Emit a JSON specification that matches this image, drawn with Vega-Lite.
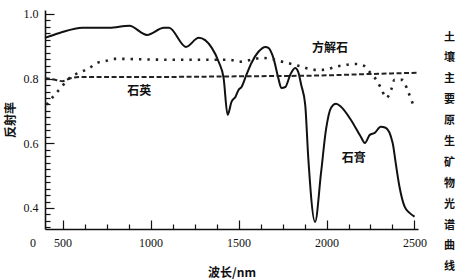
{
  "$schema": "https://vega.github.io/schema/vega-lite/v6.json",
  "width": 373,
  "height": 219,
  "autosize": "none",
  "padding": {"left": 45, "top": 10, "right": 51, "bottom": 50},
  "background": "white",
  "config": {
    "view": {"stroke": null},
    "axis": {"labelFont": "Liberation Serif", "labelFontSize": 12, "labelColor": "#111", "labelOverlap": false, "domainColor": "#111", "domainWidth": 1.6, "tickColor": "#111", "tickWidth": 1.2, "grid": false, "titleFont": "Noto Sans CJK SC", "titleFontSize": 12, "titleFontWeight": "bold", "titleColor": "#111"},
    "title": {"font": "Noto Sans CJK SC"}
  },
  "title": {
    "text": ["土","壤","主","要","原","生","矿","物","光","谱","曲","线"],
    "orient": "right",
    "angle": 0,
    "anchor": "middle",
    "fontSize": 11,
    "fontWeight": "bold",
    "lineHeight": 20.9,
    "offset": 12,
    "dy": -88,
    "color": "#111"
  },
  "datasets": {
    "gypsum": [
      {"nm": 400, "r": 0.926}, {"nm": 483, "r": 0.941}, {"nm": 613, "r": 0.957}, {"nm": 766, "r": 0.957},
      {"nm": 879, "r": 0.963}, {"nm": 980, "r": 0.935}, {"nm": 1076, "r": 0.957}, {"nm": 1105, "r": 0.957},
      {"nm": 1201, "r": 0.898}, {"nm": 1274, "r": 0.926}, {"nm": 1348, "r": 0.895}, {"nm": 1387, "r": 0.852},
      {"nm": 1415, "r": 0.802}, {"nm": 1438, "r": 0.688}, {"nm": 1460, "r": 0.728}, {"nm": 1483, "r": 0.744},
      {"nm": 1500, "r": 0.765}, {"nm": 1517, "r": 0.774}, {"nm": 1545, "r": 0.812}, {"nm": 1574, "r": 0.849},
      {"nm": 1613, "r": 0.883}, {"nm": 1653, "r": 0.898}, {"nm": 1670, "r": 0.895}, {"nm": 1698, "r": 0.864},
      {"nm": 1726, "r": 0.802}, {"nm": 1743, "r": 0.771}, {"nm": 1766, "r": 0.774}, {"nm": 1794, "r": 0.812},
      {"nm": 1822, "r": 0.833}, {"nm": 1839, "r": 0.821}, {"nm": 1856, "r": 0.781}, {"nm": 1879, "r": 0.719},
      {"nm": 1896, "r": 0.558}, {"nm": 1935, "r": 0.357}, {"nm": 1969, "r": 0.509}, {"nm": 1997, "r": 0.642},
      {"nm": 2026, "r": 0.710}, {"nm": 2054, "r": 0.722}, {"nm": 2082, "r": 0.713}, {"nm": 2139, "r": 0.672},
      {"nm": 2195, "r": 0.620}, {"nm": 2218, "r": 0.601}, {"nm": 2246, "r": 0.626}, {"nm": 2274, "r": 0.632},
      {"nm": 2308, "r": 0.651}, {"nm": 2336, "r": 0.648}, {"nm": 2376, "r": 0.601}, {"nm": 2393, "r": 0.540},
      {"nm": 2415, "r": 0.465}, {"nm": 2444, "r": 0.404}, {"nm": 2472, "r": 0.385}, {"nm": 2500, "r": 0.373}
    ],
    "calcite": [
      {"nm": 409, "r": 0.719}, {"nm": 455, "r": 0.750}, {"nm": 494, "r": 0.774}, {"nm": 528, "r": 0.796},
      {"nm": 568, "r": 0.812}, {"nm": 608, "r": 0.821}, {"nm": 653, "r": 0.833}, {"nm": 698, "r": 0.849},
      {"nm": 749, "r": 0.855}, {"nm": 795, "r": 0.861}, {"nm": 1125, "r": 0.858}, {"nm": 1449, "r": 0.858},
      {"nm": 1505, "r": 0.852}, {"nm": 1636, "r": 0.864}, {"nm": 1750, "r": 0.852}, {"nm": 1846, "r": 0.839},
      {"nm": 1931, "r": 0.827}, {"nm": 1977, "r": 0.827}, {"nm": 2073, "r": 0.839}, {"nm": 2170, "r": 0.845},
      {"nm": 2215, "r": 0.839}, {"nm": 2244, "r": 0.821}, {"nm": 2283, "r": 0.796}, {"nm": 2312, "r": 0.768},
      {"nm": 2340, "r": 0.740}, {"nm": 2369, "r": 0.768}, {"nm": 2386, "r": 0.796}, {"nm": 2431, "r": 0.796},
      {"nm": 2460, "r": 0.765}, {"nm": 2482, "r": 0.734}, {"nm": 2500, "r": 0.710}
    ],
    "quartz": [
      {"nm": 400, "r": 0.802}, {"nm": 450, "r": 0.797}, {"nm": 500, "r": 0.792}, {"nm": 540, "r": 0.800},
      {"nm": 600, "r": 0.805}, {"nm": 1000, "r": 0.805}, {"nm": 1500, "r": 0.807}, {"nm": 2000, "r": 0.810},
      {"nm": 2300, "r": 0.815}, {"nm": 2520, "r": 0.818}
    ],
    "labels": [
      {"nm": 2020, "r": 0.895, "t": "方解石"},
      {"nm": 935, "r": 0.762, "t": "石英"},
      {"nm": 2155, "r": 0.555, "t": "石膏"}
    ],
    "origin": [{"nm": 400, "r": 0.335, "t": "0"}]
  },
  "encoding": {
    "x": {"field": "nm", "type": "quantitative", "scale": {"domain": [400, 2520], "nice": false, "zero": false},
      "axis": {"title": "波长/nm", "titlePadding": 15, "values": [500,625,750,875,1000,1125,1250,1375,1500,1625,1750,1875,2000,2125,2250,2375,2500],
        "labelExpr": "datum.value % 500 == 0 ? format(datum.value, 'd') : ''",
        "tickSize": {"condition": {"test": "datum.value % 500 == 0", "value": -9}, "value": -5},
        "labelPadding": 17}},
    "y": {"field": "r", "type": "quantitative", "scale": {"domain": [0.335, 1.012], "nice": false, "zero": false},
      "axis": {"title": "反射率", "titlePadding": 6,
        "values": [0.34,0.36,0.38,0.4,0.42,0.44,0.46,0.48,0.5,0.52,0.54,0.56,0.58,0.6,0.62,0.64,0.66,0.68,0.7,0.72,0.74,0.76,0.78,0.8,0.82,0.84,0.86,0.88,0.9,0.92,0.94,0.96,0.98,1],
        "labelExpr": "(datum.value > 0.39 && datum.value < 0.41) || (datum.value > 0.59 && datum.value < 0.61) || (datum.value > 0.79 && datum.value < 0.81) || datum.value > 0.99 ? format(datum.value, '.1f') : ''",
        "tickSize": {"condition": {"test": "(datum.value > 0.39 && datum.value < 0.41) || (datum.value > 0.59 && datum.value < 0.61) || (datum.value > 0.79 && datum.value < 0.81) || datum.value > 0.99", "value": -9}, "value": -5},
        "labelPadding": 16}}
  },
  "layer": [
    {
      "data": {"name": "gypsum"},
      "mark": {"type": "line", "color": "#111", "strokeWidth": 2, "interpolate": "monotone"}
    },
    {
      "data": {"name": "calcite"},
      "mark": {"type": "line", "color": "#222", "strokeWidth": 2.6, "strokeDash": [2.4, 6], "interpolate": "monotone"}
    },
    {
      "data": {"name": "quartz"},
      "mark": {"type": "line", "color": "#222", "strokeWidth": 2, "strokeDash": [5, 2.5], "interpolate": "monotone"}
    },
    {
      "data": {"name": "labels"},
      "mark": {"type": "text", "font": "Noto Sans CJK SC", "fontSize": 12, "fontWeight": "bold", "color": "#111"},
      "encoding": {"text": {"field": "t"}}
    },
    {
      "data": {"name": "origin"},
      "mark": {"type": "text", "font": "Liberation Serif", "fontSize": 12, "color": "#111", "dx": -12, "dy": 14},
      "encoding": {"text": {"field": "t"}}
    }
  ]
}
